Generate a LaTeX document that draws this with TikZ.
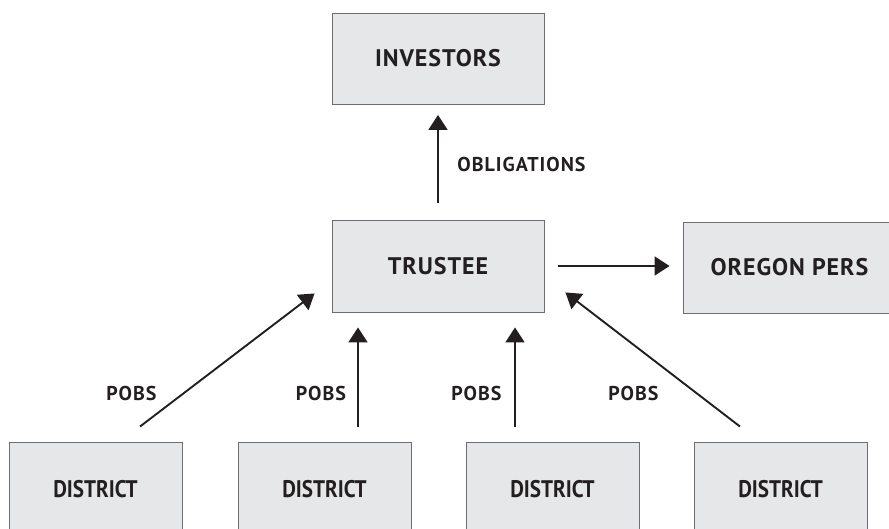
\documentclass[tikz,border=0pt]{standalone}
\usepackage{fontspec}
\setmainfont{PT Sans}
\newfontfamily\boxfont{PT Sans}[LetterSpace=4]
\newfontfamily\distfont{PT Sans}[FakeStretch=0.88]
\newfontfamily\lblfont{PT Sans}[LetterSpace=5]
\usetikzlibrary{arrows.meta,calc}
\definecolor{boxfill}{HTML}{E6E7E8}
\definecolor{boxline}{HTML}{6D6E71}
\definecolor{ink}{HTML}{231F20}
\begin{document}
\begin{tikzpicture}[x=1pt,y=1pt,
  box/.style={draw=boxline,line width=0.9pt,fill=boxfill,minimum width=#1,inner sep=0pt,
    text=ink,font=\boxfont\bfseries\fontsize{24}{28}\selectfont},
  box/.default=212pt,
  dbox/.style={box=173pt,minimum height=94pt,font=\distfont\bfseries\fontsize{24}{28}\selectfont},
  arr/.style={draw=ink,line width=1.9pt,-{Triangle[length=15pt,width=19pt]}},
  lbl/.style={text=ink,inner sep=0pt,font=\lblfont\bfseries\fontsize{20}{24}\selectfont}]
\useasboundingbox (0,0) rectangle (889,528);
\node[box=212pt,minimum height=91pt] (I) at (438,469.5) {INVESTORS};
\node[box=212pt,minimum height=92pt] (T) at (438,262) {TRUSTEE};
\node[box=213pt,minimum height=91pt] (O) at (789.5,260.5) {OREGON PERS};
\node[dbox] (D1) at (95.5,39) {DISTRICT};
\node[dbox] (D2) at (324.5,39) {DISTRICT};
\node[dbox] (D3) at (552.5,39) {DISTRICT};
\node[dbox] (D4) at (780.5,39) {DISTRICT};
\draw[arr,shorten <=17pt,shorten >=10.5pt] (T.north) -- (I.south);
\draw[arr,shorten <=14pt,shorten >=13pt] (T.east) -- (T.east -| O.west);
\draw[arr] ($(D1.north)+(44.5,15)$) -- ($(T.south west)+(-17,19)$);
\draw[arr] ($(D2.north)+(33.5,15)$) -- ($(T.south)+(-80,-15)$);
\draw[arr] ($(D3.north)+(-37.5,15)$) -- ($(T.south)+(77,-15)$);
\draw[arr] ($(D4.north)+(-40.5,15)$) -- ($(T.south east)+(21,20)$);
\node[lbl] (L0) at (521.5,363) {OBLIGATIONS};
\node[lbl] (L1) at (131.5,135) {POBS};
\node[lbl] (L2) at (321,135) {POBS};
\node[lbl] (L3) at (476.5,135) {POBS};
\node[lbl] (L4) at (633.5,135) {POBS};
\end{tikzpicture}
\end{document}
